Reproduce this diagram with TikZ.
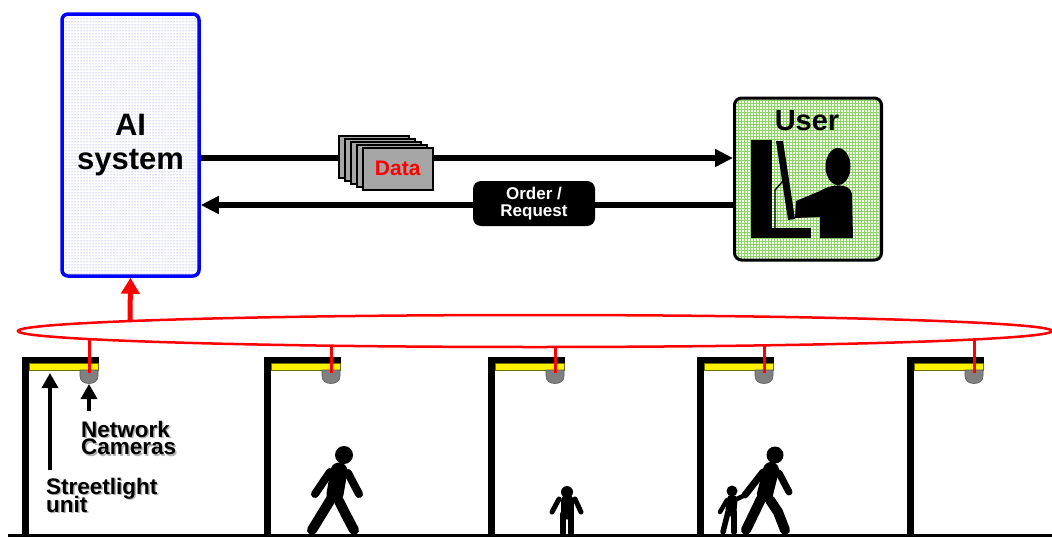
\documentclass[tikz,border=0pt]{standalone}
\usepackage{fontspec}
\setmainfont{Liberation Sans}
\usetikzlibrary{shapes.geometric, arrows.meta, patterns}

\definecolor{gridgreen}{RGB}{140,212,100}
\definecolor{palegreen}{RGB}{246,252,240}
\definecolor{dotblue}{RGB}{110,110,245}
\definecolor{cardgray}{RGB}{166,166,166}
\definecolor{lampedge}{RGB}{110,110,0}

% bold label with a soft grey drop shadow
\newcommand\shadowed[1]{\rlap{\kern1.5pt\raisebox{-1.5pt}{\textcolor{black!30}{#1}}}#1}

\begin{document}
\begin{tikzpicture}[x=1pt, y=-1pt,
  aibox/.style={draw=blue, line width=3.5pt, rounded corners=6pt,
    preaction={fill=white}, pattern=dots, pattern color=dotblue,
    minimum width=137pt, minimum height=262pt, inner sep=0pt,
    align=center, font=\bfseries\fontsize{31}{34}\selectfont},
  userbox/.style={draw=black, line width=3pt, rounded corners=7pt,
    preaction={fill=palegreen}, pattern=grid, pattern color=gridgreen,
    minimum width=147pt, minimum height=162pt, inner sep=0pt},
  card/.style={draw=black, line width=1.5pt, fill=cardgray,
    minimum width=70pt, minimum height=42pt, inner sep=0pt},
  tag/.style={fill=black, rounded corners=8pt, minimum width=122pt,
    minimum height=45pt, inner sep=0pt, text=white, align=center,
    font=\bfseries\fontsize{17}{17}\selectfont},
  flow/.style={line width=6.5pt, -{Triangle[length=18pt, width=17pt]}},
  uplink/.style={red, line width=5pt, -{Triangle[length=16pt, width=18pt]}},
  feed/.style={red, line width=3pt},
  pointer/.style={line width=3.5pt, -{Triangle[length=15pt, width=16pt]}},
  lbl/.style={font=\bfseries\fontsize{22.5}{17}\selectfont, inner sep=0pt},
  lampbar/.style={fill=yellow, draw=lampedge, line width=0.6pt},
  camdome/.style={fill=gray, draw=black!65, line width=0.6pt},
  limb/.style={line width=#1, line cap=round, line join=round},
]
\useasboundingbox (0,0) rectangle (1052,538);

% ---------------- AI system and user ----------------
\node[aibox] (ai) at (130.5,145) {AI\\system};
\node[userbox] (user) at (808,179) {};
\node[font=\bfseries\fontsize{29}{30}\selectfont, inner sep=0pt] (usertitle) at (807,121) {User};

% user at a workstation
\fill (751,140) rectangle (772,238);
\fill (751,228) rectangle (811,238);
\fill (776,141) -- (783,141) -- (795,219) -- (788,220) -- cycle;
\draw[line width=1.3pt] (775,228) -- (775,190) -- (783,181);
\fill (838,166.5) ellipse [x radius=12.5, y radius=18.5];
\fill (796,201) -- (820,191) .. controls (830,184) and (850,182) .. (852,194)
  -- (853,238) -- (820,238) -- (820,217) -- (795,218) -- cycle;

% ---------------- data / request flows ----------------
\draw[flow] ([yshift=-13pt]ai.east) -- ([yshift=21pt]user.west);
\draw[flow] ([yshift=-26pt]user.west) -- ([yshift=-60pt]ai.east);

\node[card, anchor=north west] (card1) at (338,135) {};
\node[card, anchor=north west] (card2) at (344,138) {};
\node[card, anchor=north west] (card3) at (350,141) {};
\node[card, anchor=north west] (card4) at (356,144) {};
\node[card, anchor=north west, text=red, font=\bfseries\fontsize{21}{22}\selectfont]
  (data) at (362,147) {Data};

\node[tag] (order) at (534,203.5) {Order /\\Request};

% ---------------- camera network ring ----------------
\node[draw=red, line width=2.5pt, ellipse, minimum width=1034pt,
  minimum height=32pt, inner sep=0pt] (ring) at (535,331) {};
\coordinate (tapai) at (130,321);
\draw[uplink] (tapai) -- (ai.south);

% ---------------- street lights with cameras ----------------
\foreach \L/\i/\ty in {22/1/338.5, 264/2/345, 488/3/346.5, 697/4/345, 907/5/338.5}{
  \fill (\L,357) rectangle (\L+7,535);
  \fill (\L,357) rectangle (\L+77,363);
  \draw[lampbar] (\L+7,363) rectangle (\L+76,370);
  \draw[camdome] (\L+58,370) -- (\L+76,370) -- (\L+76,376)
    .. controls (\L+76,381) and (\L+72,383.5) .. (\L+67,383.5)
    .. controls (\L+62,383.5) and (\L+58,381) .. (\L+58,376) -- cycle;
  \coordinate (cam\i) at (\L+67,373);
  \coordinate (tap\i) at (\L+67,\ty);
  \draw[feed] (tap\i) -- (cam\i);
}

% ground
\draw[line width=3pt] (8,535.5) -- (1052,535.5);

% ---------------- labels ----------------
\coordinate (lampmark) at (50,373);
\coordinate (lampfoot) at (50,470);
\coordinate (cammark) at (89,384);
\coordinate (camfoot) at (89,411);
\draw[pointer] (lampfoot) -- (lampmark);
\draw[pointer] (camfoot) -- (cammark);

\node[lbl, anchor=base west] (netlbl) at (81,437) {\shadowed{Network}};
\node[lbl, anchor=base west] (camlbl) at (81,454.5) {\shadowed{Cameras}};
\node[lbl, anchor=base west] (slbl) at (46,494) {\shadowed{Streetlight}};
\node[lbl, anchor=base west] (ulbl) at (46,512) {\shadowed{unit}};

% ---------------- pedestrians ----------------
% walking adult
\fill (344,455) circle [radius=9];
\draw[limb=17pt] (339,471) -- (335,494);
\draw[limb=8pt] (330,472) -- (315,494);
\draw[limb=8pt] (348,473) -- (359,494);
\draw[limb=10pt] (331,499) -- (312,530);
\draw[limb=10pt] (339,501) -- (345,513) -- (354,530);

% child standing
\fill (567,492) circle [radius=6];
\draw[limb=13pt] (567,501) -- (567,513);
\draw[limb=5pt] (559,499) -- (552,512);
\draw[limb=5pt] (575,499) -- (581,512);
\draw[limb=6pt] (563,514) -- (563,533);
\draw[limb=6pt] (571,514) -- (571,533);

% adult holding a child's hand
\fill (775,455) circle [radius=8.5];
\draw[limb=16pt] (771,470) -- (765,494);
\draw[limb=7pt] (763,472) -- (745,495);
\draw[limb=7pt] (779,473) -- (789,492);
\draw[limb=10pt] (761,499) -- (746,530);
\draw[limb=10pt] (770,500) -- (778,512) -- (785,530);
\fill (732,491) circle [radius=5.5];
\draw[limb=11pt] (732,500) -- (731,511);
\draw[limb=4.5pt] (737,499) -- (745,495);
\draw[limb=4.5pt] (727,500) -- (720,512);
\draw[limb=5.5pt] (728,512) -- (723,532);
\draw[limb=5.5pt] (734,512) -- (734,532);
\end{tikzpicture}
\end{document}
